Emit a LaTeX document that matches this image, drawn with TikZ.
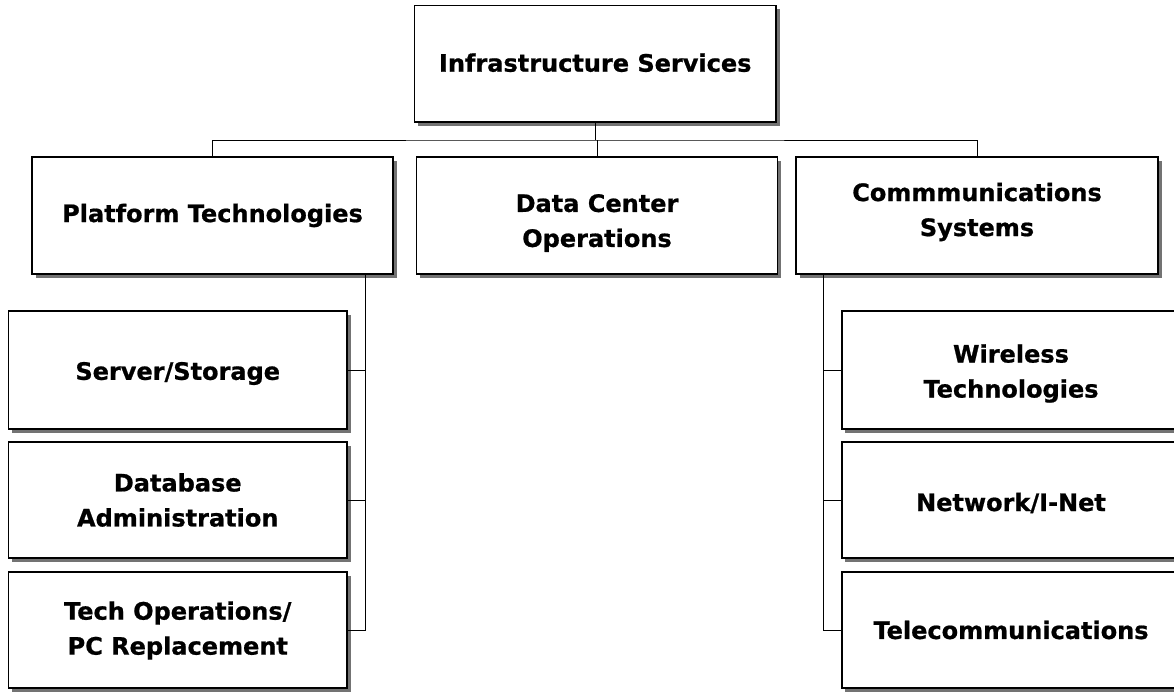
\documentclass[tikz,border=0pt]{standalone}
\usepackage{fontspec}
\setmainfont{DejaVu Sans}[BoldFeatures={FakeBold=0.8}]
\usetikzlibrary{shadows,calc}
\tikzset{
  box/.style={draw=black, line width=1.5pt, fill=white, inner sep=0pt,
    drop shadow={shadow xshift=3.5pt, shadow yshift=-3.5pt, fill=black!55, opacity=1}},
  txt/.style={align=center, inner sep=0pt, font=\fontsize{24}{35}\selectfont\bfseries},
  conn/.style={draw=black, line width=1pt}
}
\begin{document}
\begin{tikzpicture}[x=1pt,y=-1pt]
\useasboundingbox (0,0) rectangle (1174,691);
\clip (0,0) rectangle (1174,691);
% boxes
\node[box, minimum width=361.5pt, minimum height=116.5pt] (top) at (595.25,63.75) {};
\node[box, minimum width=361pt, minimum height=117pt] (pt) at (212.5,215.5) {};
\node[box, minimum width=361pt, minimum height=117pt] (dc) at (597,215.5) {};
\node[box, minimum width=362pt, minimum height=117pt] (cs) at (977,215.5) {};
\node[box, minimum width=338.5pt, minimum height=118pt] (ss) at (177.75,370) {};
\node[box, minimum width=338.5pt, minimum height=116pt] (db) at (177.75,500) {};
\node[box, minimum width=338.5pt, minimum height=116pt] (to) at (177.75,630) {};
\node[box, minimum width=338.5pt, minimum height=118pt] (wt) at (1011,370) {};
\node[box, minimum width=338.5pt, minimum height=116pt] (ni) at (1011,500) {};
\node[box, minimum width=338.5pt, minimum height=116pt] (tc) at (1011,630) {};
% texts
\node[txt] (topT) at ($(top.center)+(0,-1)$) {Infrastructure Services};
\node[txt] (ptT) at (pt.center) {Platform Technologies};
\node[txt] (dcT) at ($(dc.center)+(0,7.5)$) {Data Center\\Operations};
\node[txt] (csT) at ($(cs.center)+(0,-3.5)$) {Commmunications\\Systems};
\node[txt] (ssT) at ($(ss.center)+(0,3.5)$) {Server/Storage};
\node[txt] (dbT) at (db.center) {Database\\Administration};
\node[txt] (toT) at ($(to.center)+(0,0.5)$) {Tech Operations/\\PC Replacement};
\node[txt] (wtT) at ($(wt.center)+(0,3.5)$) {Wireless\\Technologies};
\node[txt] (niT) at ($(ni.center)+(0,3)$) {Network/I-Net};
\node[txt] (tcT) at (tc.center) {Telecommunications};
% connectors
\coordinate (bus) at (595.25,140);
\draw[conn] (pt.north) |- (bus) -| (cs.north);
\draw[conn] (top.south) -- (top.south |- bus);
\draw[conn] (dc.north) -- (dc.north |- bus);
\coordinate (lv) at ($(pt.south east)+(-28,0)$);
\coordinate (rv) at ($(cs.south west)+(28,0)$);
\draw[conn] (lv) |- (to.east);
\draw[conn] (ss.east) -- (ss.east -| lv);
\draw[conn] (db.east) -- (db.east -| lv);
\draw[conn] (rv) |- (tc.west);
\draw[conn] (wt.west) -- (wt.west -| rv);
\draw[conn] (ni.west) -- (ni.west -| rv);
\end{tikzpicture}
\end{document}
